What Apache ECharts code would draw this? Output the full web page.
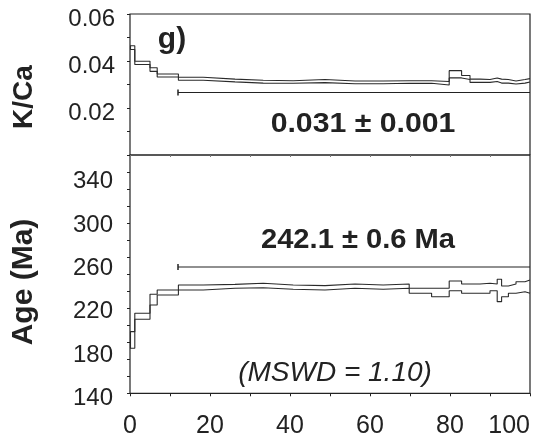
<!DOCTYPE html>
<html>
<head>
<meta charset="utf-8">
<script src="https://cdn.jsdelivr.net/npm/echarts@6/dist/echarts.min.js"></script>
<style>
    html, body { margin: 0; padding: 0; background: #fff; }
    #chartDiv { width: 543px; height: 438px; }
</style>
</head>
<body>
<div id="chartDiv"></div>
<script>
    // cumulative % 39Ar released, step edges
    var stepEdges = [0, 1.2, 5.0, 6.8, 12.1, 18.3, 26.25, 33.3, 40.8, 48.75, 56.25, 63.3, 69.8,
        75.4, 79.8, 82.9, 85.0, 87.5, 90.0, 91.8, 92.9, 94.6, 96.5, 98.75, 100];
    // apparent age (Ma), lower / upper edge of each step
    var ageLow = [181.6, 208.3, 221.5, 230.8, 235.4, 237.0, 237.5, 236.0, 235.4, 237.0, 236.0, 237.0,
        232.3, 229.2, 234.7, 232.3, 232.3, 232.3, 234.7, 224.6, 229.2, 232.3, 233.8, 232.3];
    var ageHigh = [196.9, 213.9, 231.4, 235.4, 240.0, 240.6, 241.6, 240.0, 239.4, 240.9, 240.0, 240.9,
        237.0, 237.0, 243.7, 240.9, 240.9, 241.6, 240.9, 245.3, 239.1, 240.9, 243.0, 244.6];
    // K/Ca, lower / upper edge of each step
    var kcaLow = [0.0449, 0.0385, 0.0356, 0.0332, 0.0318, 0.0311, 0.0306, 0.0305, 0.0308, 0.0303, 0.0303, 0.0305,
        0.0305, 0.0298, 0.0328, 0.0321, 0.0309, 0.0309, 0.0313, 0.0306, 0.0306, 0.0302, 0.0306, 0.0311];
    var kcaHigh = [0.0465, 0.0399, 0.0371, 0.0345, 0.0331, 0.0323, 0.0318, 0.0316, 0.0321, 0.0315, 0.0315, 0.0316,
        0.0316, 0.0313, 0.0359, 0.0338, 0.0323, 0.0321, 0.0328, 0.0323, 0.0321, 0.0315, 0.0321, 0.0325];
    // plateau bars: [from %, to %, level]
    var kcaPlateau = [12, 100, 0.0266];
    var agePlateau = [12, 100, 256.6];
    var xTicks = [0, 20, 40, 60, 80, 100];
    var kcaTicks = [0.02, 0.04, 0.06];
    var ageTicks = [140, 180, 220, 260, 300, 340];

    var FONT = '"Liberation Sans", Arial, Helvetica, sans-serif';
    var INK = '#222';

    // step outline: horizontal over each step, vertical at each edge
    function stepLine(vals) {
        var pts = [];
        for (var i = 0; i < vals.length; i++) {
            pts.push([stepEdges[i], vals[i]]);
        }
        pts.push([stepEdges[vals.length], vals[vals.length - 1]]);
        return pts;
    }

    function stepSeries(vals, axis) {
        return {
            type: 'line', step: 'end', xAxisIndex: axis, yAxisIndex: axis,
            data: stepLine(vals), showSymbol: false, symbol: 'none', silent: true,
            lineStyle: {color: '#2a2a2a', width: 1.1}
        };
    }

    // closing vertical at the first edge
    function renderFirstSide(params, api) {
        var a = api.coord([api.value(0), api.value(1)]);
        var b = api.coord([api.value(0), api.value(2)]);
        return {type: 'line', shape: {x1: a[0] + 0.5, y1: a[1], x2: b[0] + 0.5, y2: b[1]},
            style: {stroke: '#2a2a2a', lineWidth: 1.1}};
    }

    function renderPlateau(params, api) {
        var a = api.coord([api.value(0), api.value(2)]);
        var b = api.coord([api.value(1), api.value(2)]);
        return {
            type: 'group',
            children: [
                {type: 'line', shape: {x1: a[0], y1: a[1], x2: b[0], y2: b[1]},
                    style: {stroke: INK, lineWidth: 1.2}},
                {type: 'line', shape: {x1: a[0], y1: a[1] - 3, x2: a[0], y2: a[1] + 3},
                    style: {stroke: INK, lineWidth: 1.5}}
            ]
        };
    }

    var chart = echarts.init(document.getElementById('chartDiv'), null, {renderer: 'canvas'});

    var option = {
        animation: false,
        textStyle: {fontFamily: FONT, color: INK},
        grid: [
            {left: 130, right: 13, top: 14, height: 141, show: true, borderColor: INK, borderWidth: 1.2,
                backgroundColor: 'transparent', outerBoundsMode: 'none', containLabel: false},
            {left: 130, right: 13, top: 155, height: 238.3, show: true, borderColor: INK, borderWidth: 1.2,
                backgroundColor: 'transparent', outerBoundsMode: 'none', containLabel: false}
        ],
        xAxis: [
            {type: 'value', gridIndex: 0, min: 0, max: 100, interval: 10,
                axisLine: {show: false}, splitLine: {show: false}, axisLabel: {show: false},
                axisTick: {show: true, length: 2, lineStyle: {color: '#777', width: 1}}},
            {type: 'value', gridIndex: 1, min: 0, max: 100, interval: 20,
                axisLine: {show: false}, splitLine: {show: false},
                axisTick: {show: true, length: 3, lineStyle: {color: INK, width: 1}},
                minorTick: {show: true, splitNumber: 2, length: 3, lineStyle: {color: INK, width: 1}},
                axisLabel: {fontSize: 25, color: INK, margin: 20, fontFamily: FONT,
                    customValues: xTicks, alignMaxLabel: 'right'}}
        ],
        yAxis: [
            {type: 'value', gridIndex: 0, min: 0, max: 0.06, interval: 0.02,
                axisLine: {show: false}, splitLine: {show: false},
                axisTick: {show: true, length: 3, lineStyle: {color: INK, width: 1}},
                minorTick: {show: true, splitNumber: 2, length: 3, lineStyle: {color: INK, width: 1}},
                axisLabel: {fontSize: 24, color: INK, margin: 15, fontFamily: FONT,
                    verticalAlign: 'top', lineHeight: 10,
                    customValues: kcaTicks,
                    formatter: function (v) { return v.toFixed(2); }}},
            {type: 'value', gridIndex: 1, min: 140, max: 360, interval: 40,
                axisLine: {show: false}, splitLine: {show: false}, axisTick: {show: false},
                axisLabel: {fontSize: 24, color: INK, margin: 17, fontFamily: FONT,
                    verticalAlign: 'top', lineHeight: 10,
                    customValues: ageTicks}},
            // tick-only axis: the original tick marks do not line up with the labels
            {type: 'value', gridIndex: 1, min: 0, max: 14, interval: 1, position: 'left',
                axisLine: {show: false}, splitLine: {show: false}, axisLabel: {show: false},
                axisTick: {show: true, length: 3, lineStyle: {color: INK, width: 1}}}
        ],
        series: [
            stepSeries(kcaHigh, 0),
            stepSeries(kcaLow, 0),
            stepSeries(ageHigh, 1),
            stepSeries(ageLow, 1),
            {type: 'custom', xAxisIndex: 0, yAxisIndex: 0, renderItem: renderFirstSide,
                encode: {x: 0, y: [1, 2]}, data: [[stepEdges[0], kcaLow[0], kcaHigh[0]]]},
            {type: 'custom', xAxisIndex: 1, yAxisIndex: 1, renderItem: renderFirstSide,
                encode: {x: 0, y: [1, 2]}, data: [[stepEdges[0], ageLow[0], ageHigh[0]]]},
            {type: 'custom', xAxisIndex: 0, yAxisIndex: 0, renderItem: renderPlateau,
                encode: {x: [0, 1], y: 2}, data: [kcaPlateau]},
            {type: 'custom', xAxisIndex: 1, yAxisIndex: 1, renderItem: renderPlateau,
                encode: {x: [0, 1], y: 2}, data: [agePlateau]}
        ],
        graphic: [
            {type: 'text', x: 24, y: 97, rotation: Math.PI / 2,
                style: {text: 'K/Ca', font: 'bold 28px ' + FONT, fill: INK, align: 'center', verticalAlign: 'middle'}},
            {type: 'text', x: 24, y: 282, rotation: Math.PI / 2,
                style: {text: 'Age (Ma)', font: 'bold 30px ' + FONT, fill: INK, align: 'center', verticalAlign: 'middle'}},
            {type: 'text', x: 172, y: 40,
                style: {text: 'g)', font: 'bold 30px ' + FONT, fill: INK, align: 'center', verticalAlign: 'middle'}},
            {type: 'text', x: 363, y: 124, scaleX: 1.08,
                style: {text: '0.031 ± 0.001', font: 'bold 28px ' + FONT, fill: INK, align: 'center', verticalAlign: 'middle'}},
            {type: 'text', x: 358, y: 240, scaleX: 1.04,
                style: {text: '242.1 ± 0.6 Ma', font: 'bold 28px ' + FONT, fill: INK, align: 'center', verticalAlign: 'middle'}},
            {type: 'text', x: 335, y: 373,
                style: {text: '(MSWD = 1.10)', font: 'italic 28px ' + FONT, fill: INK, align: 'center', verticalAlign: 'middle'}}
        ]
    };

    chart.setOption(option);
</script>
</body>
</html>
